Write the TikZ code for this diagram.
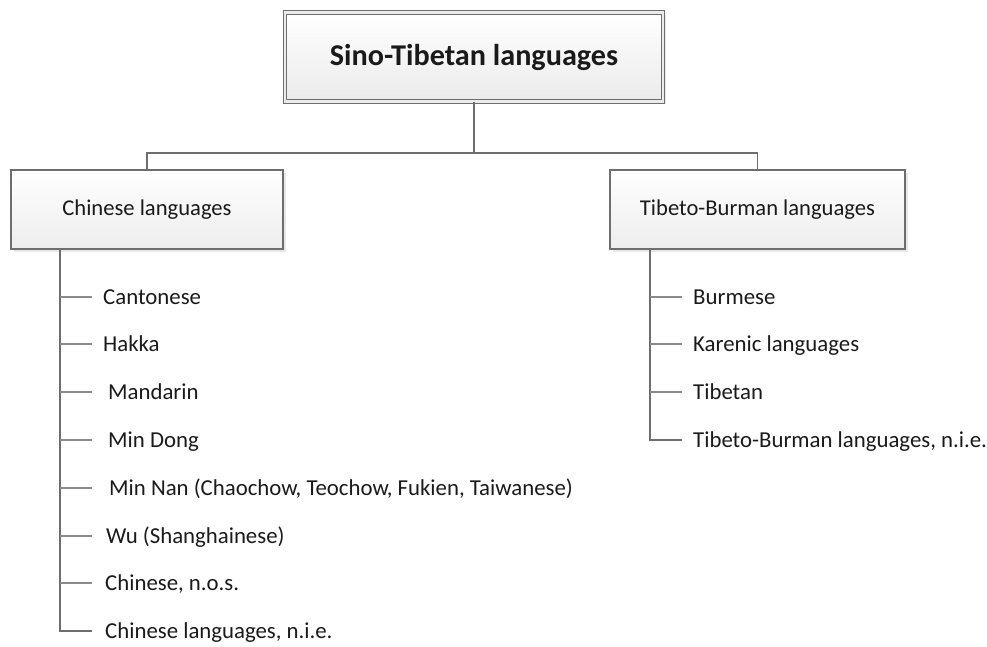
\documentclass[tikz,border=0pt]{standalone}
\usepackage{fontspec}
\setmainfont{Carlito}
\usetikzlibrary{shadows,calc}
\definecolor{txt}{HTML}{1A1A1A}
\definecolor{edge}{HTML}{6E6E6E}
\definecolor{branch}{HTML}{8A8A8A}
\tikzset{
  box/.style={draw=edge, line width=1.3pt, top color=white, bottom color=black!7,
    drop shadow={shadow xshift=2.5pt, shadow yshift=-2.5pt, fill=black!18},
    minimum height=79pt, font=\fontsize{22.6}{26}\selectfont, text=txt, inner sep=0pt},
  topbox/.style={draw=edge, double=white!92!black, double distance=2.2pt, line width=1.1pt,
    top color=white, bottom color=black!8,
    drop shadow={shadow xshift=2.5pt, shadow yshift=-2.5pt, fill=black!18},
    minimum width=378pt, minimum height=89pt, font=\bfseries\fontsize{30.2}{33}\selectfont, text=txt, inner sep=0pt},
  leaf/.style={anchor=base west, inner sep=0pt, font=\fontsize{22.8}{26}\selectfont, text=txt},
  conn/.style={draw=edge, line width=1.5pt},
  twig/.style={draw=branch, line width=1.4pt},
}
\begin{document}
\begin{tikzpicture}[x=1pt,y=-1pt]
\useasboundingbox (0,0) rectangle (987,646);
\node[topbox] (root) at (474,57) {Sino-Tibetan languages};
\node[box, minimum width=272pt] (chi) at (147,209.5) {Chinese languages};
\node[box, minimum width=295pt] (tib) at (757.5,209.5) {Tibeto-Burman languages};
\coordinate (hy) at (474,153);
\draw[conn] (root.south) -- (hy);
\draw[conn] (chi.north) |- (hy) -| (tib.north);

% Chinese leaves
\node[leaf] (c1) at (103,304.5) {Cantonese};
\node[leaf] (c2) at (103,351.5) {Hakka};
\node[leaf] (c3) at (108,399.5) {Mandarin};
\node[leaf] (c4) at (108,447.5) {Min Dong};
\node[leaf] (c5) at (109,495.5) {Min Nan (Chaochow, Teochow, Fukien, Taiwanese)};
\node[leaf] (c6) at (106,543.5) {Wu (Shanghainese)};
\node[leaf] (c7) at (105,590.5) {Chinese, n.o.s.};
\node[leaf] (c8) at (105,638.5) {Chinese languages, n.i.e.};
\coordinate (ctr) at (60,249);
\draw[conn] (ctr) -- (60,631) -- (92,631);
\foreach \i/\y in {1/297,2/344,3/392,4/440,5/488,6/536,7/583}
  \draw[twig] (60,\y) -- (92,\y);

% Tibeto-Burman leaves
\node[leaf] (t1) at (693,304.5) {Burmese};
\node[leaf] (t2) at (693,351.5) {Karenic languages};
\node[leaf] (t3) at (693,399.5) {Tibetan};
\node[leaf] (t4) at (693,447.5) {Tibeto-Burman languages, n.i.e.};
\coordinate (ttr) at (650,249);
\draw[conn] (ttr) -- (650,440) -- (682,440);
\foreach \i/\y in {1/297,2/344,3/392}
  \draw[twig] (650,\y) -- (682,\y);
\end{tikzpicture}
\end{document}
